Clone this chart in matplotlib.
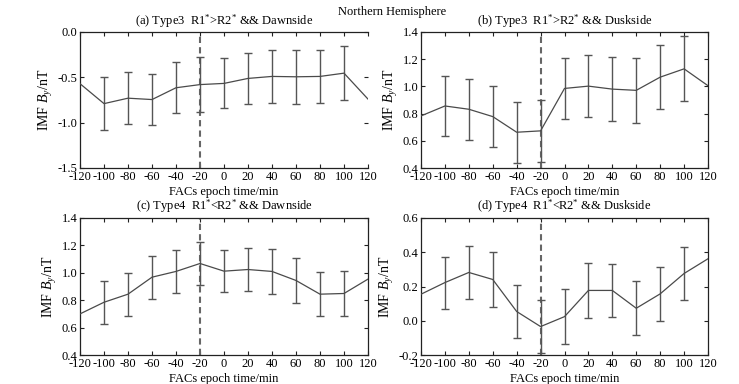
import matplotlib
matplotlib.use("Agg")
import matplotlib.pyplot as plt
import numpy as np

plt.rcParams['font.family'] = ['Liberation Serif', 'DejaVu Serif']
plt.rcParams['mathtext.fontset'] = 'custom'
plt.rcParams['mathtext.rm'] = 'Liberation Serif'
plt.rcParams['mathtext.it'] = 'Liberation Serif:italic'
plt.rcParams['axes.unicode_minus'] = False

epoch = [-120, -100, -80, -60, -40, -20, 0, 20, 40, 60, 80, 100, 120]

mean_a = [-0.57, -0.79, -0.73, -0.745, -0.615, -0.58, -0.567, -0.512, -0.49, -0.494, -0.49, -0.454, -0.74]
err_a = [np.nan, 0.29, 0.285, 0.28, 0.28, 0.30, 0.275, 0.285, 0.295, 0.30, 0.295, 0.30, np.nan]

mean_b = [0.783, 0.856, 0.832, 0.778, 0.663, 0.673, 0.985, 1.002, 0.98, 0.971, 1.068, 1.129, 1.005]
err_b = [np.nan, 0.223, 0.223, 0.225, 0.223, 0.226, 0.222, 0.23, 0.238, 0.24, 0.237, 0.24, np.nan]

mean_c = [0.70, 0.785, 0.844, 0.968, 1.01, 1.068, 1.012, 1.024, 1.01, 0.944, 0.844, 0.849, 0.954]
err_c = [np.nan, 0.156, 0.156, 0.158, 0.158, 0.156, 0.155, 0.157, 0.162, 0.162, 0.161, 0.163, np.nan]

mean_d = [0.155, 0.223, 0.282, 0.241, 0.054, -0.034, 0.024, 0.177, 0.177, 0.073, 0.157, 0.276, 0.362]
err_d = [np.nan, 0.152, 0.153, 0.158, 0.157, 0.156, 0.16, 0.16, 0.157, 0.159, 0.159, 0.155, np.nan]

titles = [r"(a) Type3  R1$^{*}$>R2$^{*}$ && Dawnside",
          r"(b) Type3  R1$^{*}$>R2$^{*}$ && Duskside",
          r"(c) Type4  R1$^{*}$<R2$^{*}$ && Dawnside",
          r"(d) Type4  R1$^{*}$<R2$^{*}$ && Duskside"]
ylims = [(-1.5, 0.0), (0.4, 1.4), (0.4, 1.4), (-0.2, 0.6)]
yticks = [[-1.5, -1.0, -0.5, 0.0],
          [0.4, 0.6, 0.8, 1.0, 1.2, 1.4],
          [0.4, 0.6, 0.8, 1.0, 1.2, 1.4],
          [-0.2, 0.0, 0.2, 0.4, 0.6]]
means = [mean_a, mean_b, mean_c, mean_d]
errs = [err_a, err_b, err_c, err_d]
event_time = -20

W, H = 739, 384
fig = plt.figure(figsize=(W / 100, H / 100), dpi=100)
boxes = [(80, 368, 32, 168), (421, 708, 32, 168), (80, 368, 218, 355), (421, 708, 218, 355)]
title_pads = [5, 5, 6, 6]

fs = 9
for i, (l, r, t, b) in enumerate(boxes):
    ax = fig.add_axes([l / W, 1 - b / H, (r - l) / W, (b - t) / H])
    ax.errorbar(epoch, means[i], yerr=errs[i], color='#4a4a4a', lw=0.9,
                ecolor='#555555', elinewidth=1.0, capsize=3, capthick=1.0, zorder=3)
    ax.axvline(event_time, color='#666666', lw=1.5, ls=(0, (3, 2)), zorder=2)
    ax.set_xlim(-120, 120)
    ax.set_ylim(*ylims[i])
    ax.set_xticks(epoch)
    ax.set_xticklabels([str(v) for v in epoch], fontsize=fs)
    ax.set_yticks(yticks[i])
    ax.set_yticklabels(["%.1f" % v for v in yticks[i]], fontsize=fs)
    ax.tick_params(direction='in', top=True, right=True, length=3, width=0.8,
                   color='#222222', pad=2)
    for s in ax.spines.values():
        s.set_color('#222222')
        s.set_linewidth(0.9)
    if i == 0:
        ax.spines['right'].set_visible(False)
    ax.set_title(titles[i], fontsize=fs, pad=title_pads[i])
    ax.set_xlabel("FACs epoch time/min", fontsize=fs, labelpad=2)
    ax.set_ylabel(r"IMF $B_y$/nT", fontsize=10, labelpad=2)

fig.text(392 / W, 1 - 12 / H, "Northern Hemisphere", ha='center', va='center',
         fontsize=9)

fig.savefig("out.png", dpi=100)
